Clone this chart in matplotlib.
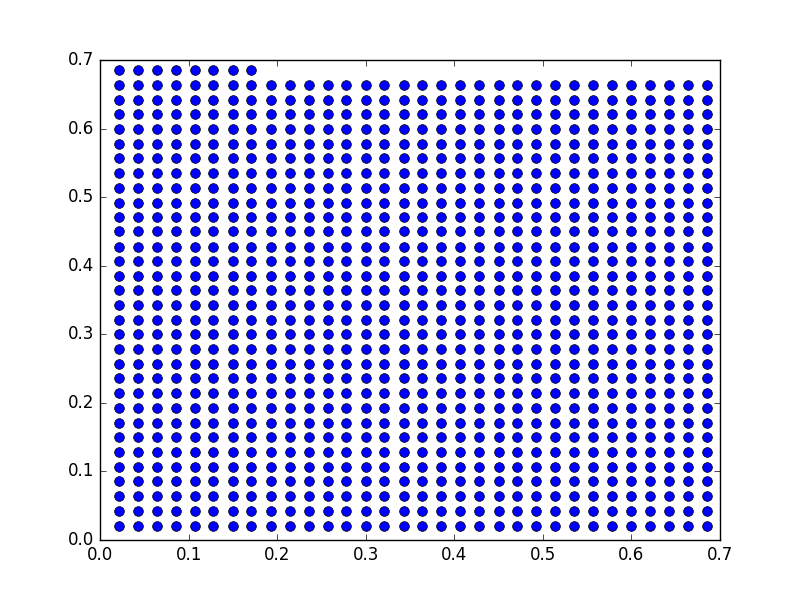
import numpy as np
import matplotlib
matplotlib.use("Agg")
import matplotlib.pyplot as plt

plt.style.use("classic")

# grid levels (same spacing both ways)
levels = [0.021, 0.043, 0.064, 0.086, 0.107, 0.128, 0.150, 0.171,
          0.193, 0.214, 0.236, 0.257, 0.278, 0.300, 0.321, 0.343,
          0.364, 0.385, 0.407, 0.428, 0.450, 0.471, 0.492, 0.514,
          0.535, 0.557, 0.578, 0.599, 0.621, 0.642, 0.664, 0.685]

# points per row, bottom to top (1000 points filled row by row)
row_counts = [32] * 31 + [8]

xs = []
ys = []
for row, n in enumerate(row_counts):
    xs.extend(levels[:n])
    ys.extend([levels[row]] * n)

fig = plt.figure(figsize=(8, 6), dpi=100)
plt.plot(xs, ys, "o", color="blue", markeredgecolor="black", markersize=7)
plt.xlim(0, 0.7)
plt.ylim(0, 0.7)

fig.savefig("out.png", dpi=100, facecolor="white")
